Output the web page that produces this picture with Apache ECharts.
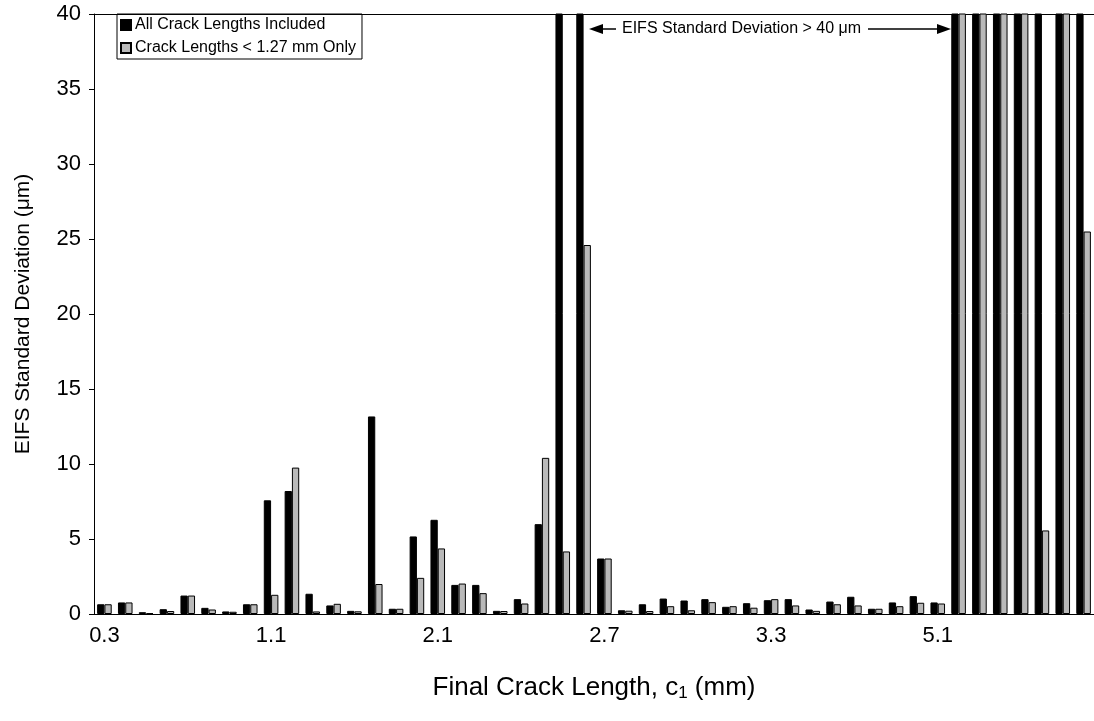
<!DOCTYPE html>
<html>
<head>
<meta charset="utf-8">
<script src="https://cdn.jsdelivr.net/npm/echarts@6/dist/echarts.min.js"></script>
<style>
  html, body { margin: 0; padding: 0; background: #fff; }
  #chart { width: 1094px; height: 721px; }
</style>
</head>
<body>
<div id="chart"></div>
<script>
// x axis labels shown every 8th category
const tickLabels = ["0.3", "1.1", "2.1", "2.7", "3.3", "5.1"];
const categories = Array.from({ length: 48 }, (_, i) =>
  i % 8 === 0 ? tickLabels[i / 8] : "c" + i
);

// 50 = off scale (> 40 um), clipped at the top of the plot
const allLengths = [
  0.65, 0.77, 0.12, 0.32, 1.23, 0.41, 0.17, 0.65, 7.58, 8.2,
  1.35, 0.57, 0.21, 13.17, 0.35, 5.17, 6.28, 1.94, 1.94, 0.21,
  0.99, 5.99, 50, 50, 3.7, 0.25, 0.65, 1.03, 0.9, 0.99,
  0.48, 0.72, 0.92, 0.99, 0.3, 0.83, 1.15, 0.35, 0.77, 1.19,
  0.77, 50, 50, 50, 50, 50, 50, 50
];
const shortLengths = [
  0.65, 0.77, 0.05, 0.2, 1.23, 0.3, 0.15, 0.65, 1.28, 9.76,
  0.17, 0.68, 0.18, 2.0, 0.35, 2.41, 4.37, 2.03, 1.39, 0.2,
  0.7, 10.41, 4.17, 24.6, 3.7, 0.22, 0.2, 0.52, 0.25, 0.79,
  0.52, 0.42, 0.99, 0.57, 0.21, 0.65, 0.57, 0.35, 0.52, 0.75,
  0.7, 50, 50, 50, 50, 5.57, 50, 25.5
];

const font = "Liberation Sans, Arial, sans-serif";

const chart = echarts.init(document.getElementById("chart"));
chart.setOption({
  animation: false,
  textStyle: { fontFamily: font, color: "#000" },
  grid: {
    left: 94,
    top: 14,
    bottom: 107,
    width: 1007
  },
  legend: {
    orient: "vertical",
    left: 117,
    top: 14,
    padding: [3, 6, 3, 3],
    itemGap: 7,
    itemWidth: 10,
    itemHeight: 10,
    borderColor: "#000",
    borderWidth: 1,
    icon: "rect",
    textStyle: { fontSize: 16, color: "#000", fontFamily: font, padding: [0, 0, 0, -1] },
    data: ["All Crack Lengths Included", "Crack Lengths < 1.27 mm Only"]
  },
  xAxis: [
    {
      type: "category",
      data: categories,
      boundaryGap: true,
      name: "{a|Final Crack Length, c}{s|1}{a| (mm)}",
      nameLocation: "middle",
      nameGap: 60,
      nameTextStyle: {
        fontSize: 26,
        color: "#000",
        rich: {
          a: { fontSize: 26, fontFamily: font, color: "#000" },
          s: { fontSize: 17, fontFamily: font, color: "#000", padding: [11, 0, 0, 0] }
        }
      },
      axisLine: { lineStyle: { color: "#000", width: 1 } },
      axisTick: { interval: 0, length: 6, lineStyle: { color: "#000" } },
      axisLabel: { interval: 7, fontSize: 22, color: "#000", margin: 11 },
      splitLine: { show: false }
    },
    {
      // top frame line of the plot area
      type: "category",
      position: "top",
      data: categories,
      axisLine: { show: true, lineStyle: { color: "#000", width: 1 } },
      axisTick: { show: false },
      axisLabel: { show: false },
      splitLine: { show: false }
    }
  ],
  yAxis: {
    type: "value",
    min: 0,
    max: 40,
    interval: 5,
    name: "EIFS Standard Deviation (\u03bcm)",
    nameLocation: "middle",
    nameGap: 60,
    nameTextStyle: { fontSize: 21, color: "#000" },
    axisLine: { show: true, lineStyle: { color: "#000", width: 1 } },
    axisTick: { show: true, length: 5, lineStyle: { color: "#000" } },
    axisLabel: { fontSize: 22, color: "#000", margin: 13 },
    splitLine: { show: false }
  },
  series: [
    {
      name: "All Crack Lengths Included",
      type: "bar",
      data: allLengths,
      barGap: "0%",
      barCategoryGap: "30%",
      itemStyle: { color: "#000", borderColor: "#000", borderWidth: 1 }
    },
    {
      name: "Crack Lengths < 1.27 mm Only",
      type: "bar",
      data: shortLengths,
      itemStyle: { color: "#b9b9b9", borderColor: "#000", borderWidth: 1 }
    }
  ],
  graphic: [
    { type: "line", shape: { x1: 600, y1: 29, x2: 616, y2: 29 }, style: { stroke: "#000", lineWidth: 1.5 } },
    { type: "polygon", shape: { points: [[589, 29], [603, 24], [603, 34]] }, style: { fill: "#000" } },
    {
      type: "text",
      x: 622,
      y: 29,
      style: {
        text: "EIFS Standard Deviation > 40 \u03bcm",
        fontSize: 16,
        fontFamily: font,
        fill: "#000",
        verticalAlign: "middle"
      }
    },
    { type: "line", shape: { x1: 868, y1: 29, x2: 940, y2: 29 }, style: { stroke: "#000", lineWidth: 1.5 } },
    { type: "polygon", shape: { points: [[951, 29], [937, 24], [937, 34]] }, style: { fill: "#000" } }
  ]
});
</script>
</body>
</html>
